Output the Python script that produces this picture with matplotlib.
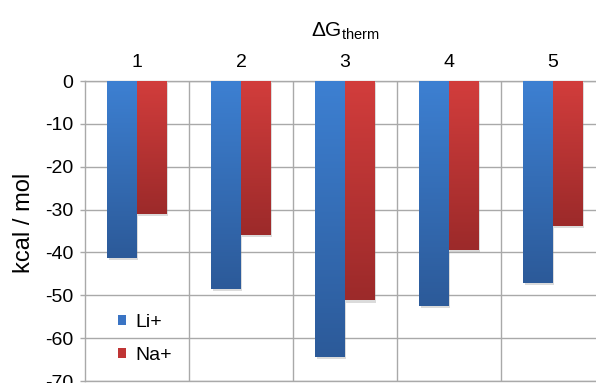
import matplotlib.pyplot as plt
import matplotlib.patheffects as pe
import numpy as np
from matplotlib.colors import LinearSegmentedColormap
from matplotlib.patches import Patch

plt.rcParams["font.family"] = ["Liberation Sans", "DejaVu Sans"]
plt.rcParams["mathtext.fontset"] = "custom"
plt.rcParams["mathtext.rm"] = "Liberation Sans"
plt.rcParams["mathtext.it"] = "Liberation Sans"

categories = ["1", "2", "3", "4", "5"]
li_values = [-41.3, -48.6, -64.4, -52.5, -47.2]
na_values = [-31.1, -36.0, -51.2, -39.4, -33.9]
y_ticks = [0, -10, -20, -30, -40, -50, -60, -70]

LI_TOP, LI_BOT = "#3d80d2", "#2c5a99"
NA_TOP, NA_BOT = "#d23d3c", "#9c2a2a"
GRID = "#a9a9a9"

fig = plt.figure(figsize=(5.96, 3.83), dpi=100)
# axes runs past the right edge of the figure, like the cropped original
ax = fig.add_axes([85 / 596, 2 / 383, 520 / 596, 300 / 383])

x = np.arange(len(categories))
w = 0.287
shadow = [pe.SimplePatchShadow(offset=(1, -1.5), shadow_rgbFace="#888888", alpha=0.3), pe.Normal()]
li_bars = ax.bar(x - w / 2, li_values, w, color=LI_BOT, zorder=3, path_effects=shadow)
na_bars = ax.bar(x + w / 2, na_values, w, color=NA_BOT, zorder=3, path_effects=shadow)

# vertical gradient fill on each bar (lighter at the top)
grad = np.linspace(0, 1, 256).reshape(-1, 1)
for bars, top, bot in [(li_bars, LI_TOP, LI_BOT), (na_bars, NA_TOP, NA_BOT)]:
    cmap = LinearSegmentedColormap.from_list("g", [top, bot])
    for b in bars:
        x0, y0 = b.get_x(), b.get_y()
        x1, y1 = x0 + b.get_width(), y0 + b.get_height()
        ax.imshow(grad, cmap=cmap, aspect="auto", extent=(x0, x1, min(y0, y1), max(y0, y1)),
                  origin="upper", zorder=4)

ax.set_xlim(-0.5, len(categories) - 0.5)
ax.set_ylim(-70, 0)

ax.set_yticks(y_ticks)
ax.set_yticklabels([str(t) for t in y_ticks])
ax.tick_params(axis="y", length=3.6, width=1, color=GRID, pad=5, labelsize=14)

ax.xaxis.tick_top()
ax.set_xticks(x)
ax.set_xticklabels(categories)
ax.set_xticks(x[:-1] + 0.5, minor=True)
ax.tick_params(axis="x", which="both", length=0, pad=7, labelsize=14)

ax.grid(axis="y", color=GRID, linewidth=1, zorder=0)
ax.grid(axis="x", which="minor", color=GRID, linewidth=1, zorder=0)
for s in ax.spines.values():
    s.set_color(GRID)
    s.set_linewidth(1)

ax.set_ylabel("kcal / mol", fontsize=17)
ax.yaxis.set_label_coords(-0.096, 0.527)

fig.text(345 / 596, 1 - 37 / 383, r"$\Delta\mathrm{G}_{\mathrm{therm}}$", fontsize=15,
         ha="center", va="baseline")

handles = [Patch(facecolor="#3a74c4", label="Li+"), Patch(facecolor="#c03535", label="Na+")]
ax.legend(handles=handles, loc="lower left", bbox_to_anchor=(0.03, 0.0), frameon=False,
          fontsize=14, handlelength=0.42, handleheight=0.42, handletextpad=0.45, labelspacing=0.8)

fig.savefig("out.png", dpi=100)
